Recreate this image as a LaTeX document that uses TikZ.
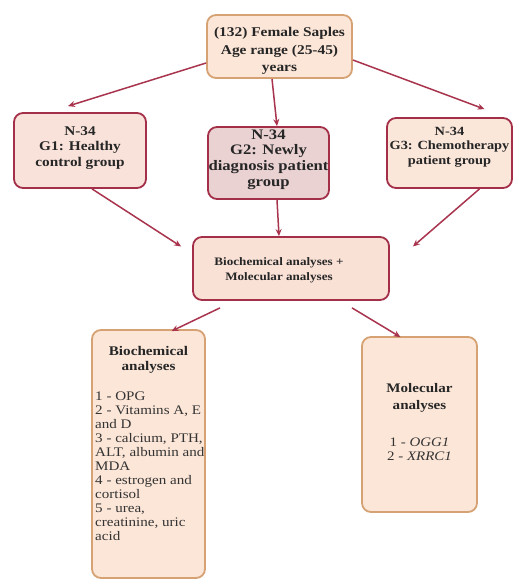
\documentclass[tikz,border=0pt]{standalone}
\usepackage{fontspec}
\setmainfont{Liberation Serif}[FakeStretch=1.15]
\usetikzlibrary{calc,arrows.meta}
\definecolor{redline}{HTML}{A33048}
\definecolor{orline}{HTML}{D6A274}
\definecolor{peach}{HTML}{FCE6D8}
\definecolor{pinkA}{HTML}{F9E2DA}
\definecolor{pinkB}{HTML}{EAD2D2}
\definecolor{pinkC}{HTML}{FBE6DA}
\definecolor{pinkD}{HTML}{FAE1D6}
\definecolor{arrowc}{HTML}{A8344E}
\newcommand{\fsz}[2]{\fontsize{#1}{#2}\selectfont}
\tikzset{
  box/.style={rounded corners=9pt, line width=1.8pt, inner sep=0pt},
  redbox/.style={box, draw=redline},
  orbox/.style={box, draw=orline, fill=peach},
  arr/.style={draw=arrowc, line width=1.5pt, -{Stealth[length=7pt,width=6pt]}},
  hd/.style={inner sep=0pt, align=center, text=black!85, font=\bfseries},
  txt/.style={inner sep=0pt, align=left, text=black!80},
}
\begin{document}
\begin{tikzpicture}[x=1pt,y=-1pt]
\useasboundingbox (0,0) rectangle (521,583);
\fill[white] (0,0) rectangle (521,583);
% boxes
\node[orbox, minimum width=145pt, minimum height=63pt] (top) at (279.5,46.5) {};
\node[redbox, fill=pinkA, minimum width=132pt, minimum height=75pt] (g1) at (80,150.5) {};
\node[redbox, fill=pinkB, minimum width=121pt, minimum height=72pt] (g2) at (268.5,163) {};
\node[redbox, fill=pinkC, minimum width=125pt, minimum height=70pt] (g3) at (449.5,153) {};
\node[redbox, fill=pinkD, minimum width=196pt, minimum height=63pt] (mid) at (291,268.5) {};
\node[orbox, minimum width=113pt, minimum height=248pt] (bio) at (148.5,454) {};
\node[orbox, minimum width=115pt, minimum height=175pt] (mol) at (419.5,424.5) {};
% texts
\node[hd, font=\bfseries\fsz{13.4}{17.5}] (topt) at (279.5,51)
  {(132) Female Saples\\Age range (25-45)\\years};
\node[hd, font=\bfseries\fsz{13.3}{15.5}] (g1t) at (80,148)
  {N-34\\G1: Healthy\\control group};
\node[hd, font=\bfseries\fsz{14.5}{15.7}] (g2t) at (268.5,159.5)
  {N-34\\G2: Newly\\diagnosis patient\\group};
\node[hd, font=\bfseries\fsz{12.5}{14.5}] (g3t) at (449.5,147)
  {N-34\\G3: Chemotherapy\\patient group};
\node[hd, font=\bfseries\fsz{11.4}{15}] (midt) at (279,270)
  {Biochemical analyses +\\Molecular analyses};
\node[hd, font=\bfseries\fsz{13.2}{15}] (biot) at (148.5,360)
  {Biochemical\\analyses};
\node[txt, font=\fsz{13.1}{14}, anchor=north west] (biol) at (95,392)
  {1 - OPG\\2 - Vitamins A, E\\and D\\3 - calcium, PTH,\\ALT, albumin and\\MDA\\4 - estrogen and\\cortisol\\5 - urea,\\creatinine, uric\\acid};
\node[hd, font=\bfseries\fsz{13.1}{17}] (molt) at (419.5,398)
  {Molecular\\analyses};
\node[txt, align=center, font=\fsz{13}{14}] (moll) at (419.5,449)
  {1 - \textit{OGG1}\\2 - \textit{XRRC1}};
% connectors
\draw[arr] ($(top.west)+(0,16.5)$) -- ($(g1.north)+(-12,-6)$);
\draw[arr] ($(top.east)+(0,13.5)$) -- ($(g3.north)+(35,-8)$);
\draw[arr] ($(top.south)+(-7.5,0)$) -- ($(g2.north)+(8.5,0)$);
\draw[arr] ($(g1.south)+(12,0)$) -- ($(mid.west)+(-11,-22)$);
\draw[arr] ($(g2.south)+(8.5,0)$) -- ($(mid.north)+(-12,0)$);
\draw[arr] ($(g3.south)+(30,0)$) -- ($(mid.east)+(23,-22)$);
\draw[arr] ($(mid.south)+(-71,7)$) -- ($(bio.north)+(23,2)$);
\draw[arr] ($(mid.south)+(61,7)$) -- ($(mol.north)+(-19,1)$);
\end{tikzpicture}
\end{document}
